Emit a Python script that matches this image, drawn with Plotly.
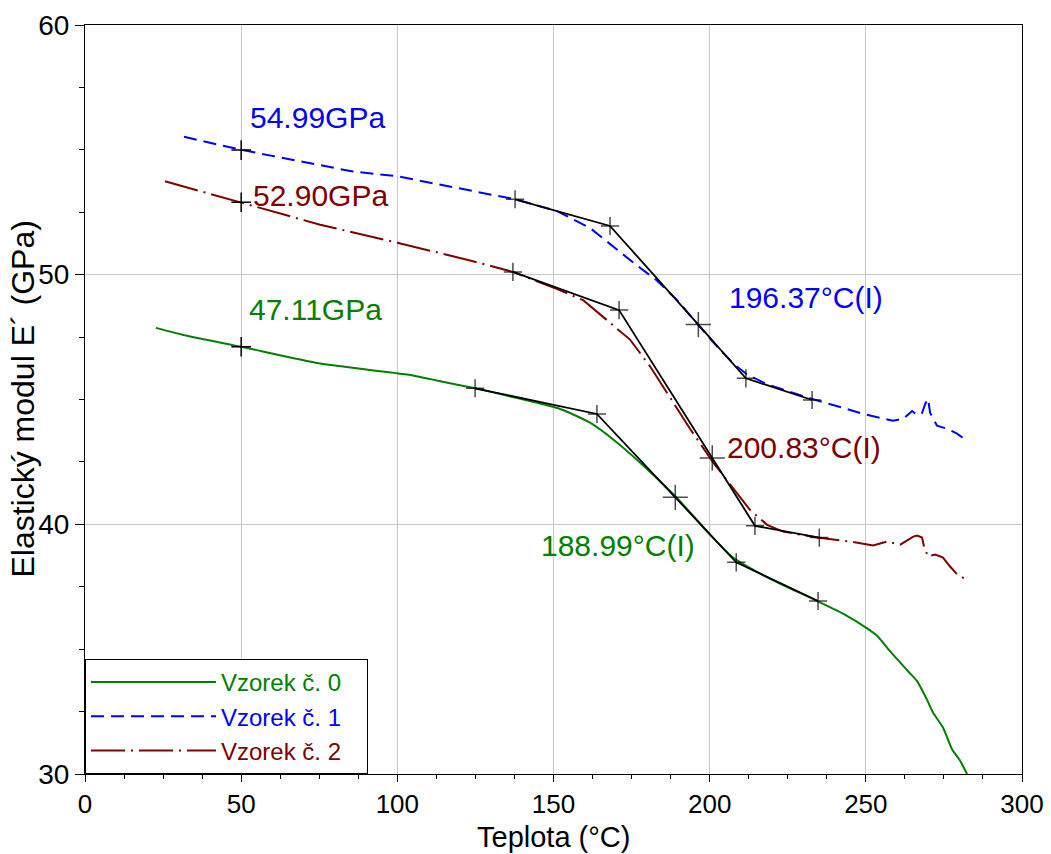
import plotly.graph_objects as go

# ---------------- data ----------------
# Vzorek č. 0 (green, solid)
t0 = [22.7, 32.7, 50.0, 75.3, 103.1, 116.9, 124.9, 138.3, 152.1, 161.7, 170.3, 178.7,
      189.6, 200.1, 207.5, 218.4, 234.4, 242.7, 250.4, 253.9, 257.8, 263.2, 266.4,
      269.6, 271.5, 274.7, 277.6, 280.1, 282.4]
e0 = [47.87, 47.55, 47.11, 46.44, 46.00, 45.65, 45.45, 45.06, 44.62, 44.07, 43.28, 42.36,
      41.05, 39.59, 38.67, 37.88, 36.93, 36.42, 35.83, 35.50, 34.91, 34.16, 33.72,
      32.97, 32.46, 31.86, 30.99, 30.55, 30.00]

# Vzorek č. 1 (blue, dashed)
t1 = [31.7, 50.0, 85.8, 100.0, 137.7, 151.1, 161.7, 170.3, 176.7, 183.1, 189.6, 196.3,
      202.4, 207.5, 212.0, 218.4, 232.8, 244.0, 249.1, 258.7, 262.0, 264.8, 266.4,
      268.0, 269.0, 269.9, 270.6, 272.8, 276.0, 279.2, 282.4]
e1 = [55.52, 55.00, 54.13, 53.94, 53.02, 52.55, 51.87, 51.00, 50.37, 49.77, 48.98, 47.99,
      47.12, 46.44, 46.00, 45.61, 45.02, 44.62, 44.42, 44.15, 44.23, 44.54, 44.38,
      44.46, 44.82, 45.02, 44.46, 43.95, 43.83, 43.63, 43.35]

# Vzorek č. 2 (dark red, dash-dot)
t2 = [25.6, 33.6, 50.0, 75.3, 100.0, 123.3, 137.0, 151.2, 159.5, 167.1, 174.5, 180.9,
      186.3, 193.7, 201.1, 207.5, 212.9, 218.4, 223.5, 234.4, 245.0, 252.3, 256.8,
      261.0, 263.6, 265.2, 266.4, 268.0, 268.7, 269.9, 272.2, 274.7, 276.9, 279.2, 282.4]
e2 = [53.74, 53.46, 52.90, 52.00, 51.28, 50.57, 50.11, 49.42, 48.98, 48.19, 47.40, 46.33,
      45.26, 43.83, 42.48, 41.45, 40.58, 39.98, 39.71, 39.47, 39.31, 39.15, 39.31,
      39.19, 39.39, 39.51, 39.55, 39.47, 39.07, 38.72, 38.79, 38.67, 38.32, 38.00, 37.77]

# Tangent constructions (onset / inflection / end points)
tan0_t = [124.9, 163.9, 188.99, 208.5, 234.7]
tan0_e = [45.45, 44.42, 41.08, 38.48, 36.93]
tan1_t = [137.7, 168.1, 196.37, 211.6, 232.8]
tan1_e = [53.02, 51.95, 48.00, 45.85, 44.98]
tan2_t = [137.0, 171.0, 200.83, 214.5, 235.1]
tan2_e = [50.11, 48.58, 42.66, 39.94, 39.47]

# Modulus read-outs at 50 °C
ref_t = [50.0, 50.0, 50.0]
ref_e = [47.11, 54.99, 52.90]

series_names = ["Vzorek č. 0", "Vzorek č. 1", "Vzorek č. 2"]
colors = ["#008000", "#0000FF", "#800000"]

# label texts & anchor positions (data coordinates)
labels = ["47.11GPa", "54.99GPa", "52.90GPa", "188.99°C(I)", "196.37°C(I)", "200.83°C(I)"]
label_t = [52.0, 52.3, 53.0, 145.5, 205.7, 205.0]
label_e = [48.60, 56.29, 53.16, 39.17, 49.08, 43.06]
label_col = [colors[0], colors[1], colors[2], colors[0], colors[1], colors[2]]

x_ticks = [0, 50, 100, 150, 200, 250, 300]
y_ticks = [30, 40, 50, 60]
x_title = "Teplota (°C)"
y_title = "Elastický modul E´ (GPa)"

FONT = "Liberation Sans, Arial, sans-serif"
PAD = "&nbsp;&nbsp;&nbsp;"

fig = go.Figure()

# main curves
fig.add_trace(go.Scatter(x=t0, y=e0, mode="lines", name=f"<span style='color:{colors[0]}'>{series_names[0]}</span>{PAD}",
                         line=dict(color=colors[0], width=2, shape="spline", smoothing=0.6)))
fig.add_trace(go.Scatter(x=t1, y=e1, mode="lines", name=f"<span style='color:{colors[1]}'>{series_names[1]}</span>{PAD}",
                         line=dict(color=colors[1], width=2, dash="13px,7px")))
fig.add_trace(go.Scatter(x=t2, y=e2, mode="lines", name=f"<span style='color:{colors[2]}'>{series_names[2]}</span>{PAD}",
                         line=dict(color=colors[2], width=2, dash="34px,6px,2px,6px")))

# tangent lines with cross markers
for tt, ee in [(tan0_t, tan0_e), (tan1_t, tan1_e), (tan2_t, tan2_e)]:
    fig.add_trace(go.Scatter(x=tt, y=ee, mode="lines+markers", showlegend=False,
                             line=dict(color="black", width=1.8),
                             marker=dict(symbol="cross-thin", size=[13, 13, 18, 13, 13],
                                         line=dict(color="black", width=1.5))))

# reference points at 50 °C
fig.add_trace(go.Scatter(x=ref_t, y=ref_e, mode="markers", showlegend=False,
                         marker=dict(symbol="cross-thin", size=14,
                                     line=dict(color="black", width=1.5))))

for txt, xx, yy, cc in zip(labels, label_t, label_e, label_col):
    fig.add_annotation(x=xx, y=yy, text=txt, showarrow=False, xanchor="left", yanchor="middle",
                       font=dict(family=FONT, size=30, color=cc))

# axis titles
fig.add_annotation(x=0.5, y=-0.1068, xref="paper", yref="paper", text=x_title, showarrow=False,
                   xanchor="center", yanchor="bottom", borderpad=0,
                   font=dict(family=FONT, size=29, color="black"))
fig.add_annotation(x=-0.0672, y=0.5, xref="paper", yref="paper", text=y_title, showarrow=False,
                   textangle=-90, xanchor="center", yanchor="middle",
                   font=dict(family=FONT, size=32, color="black"))

axis_common = dict(showline=True, linecolor="black", linewidth=1, mirror=True,
                   showgrid=True, gridcolor="#c8c8c8", gridwidth=1, zeroline=False,
                   ticks="outside", tickcolor="black", tickwidth=1,
                   automargin=False)

fig.update_xaxes(range=[0, 300], tickvals=x_ticks, ticklen=7,
                 tickfont=dict(family=FONT, size=26, color="black"),
                 minor=dict(dtick=12.5, ticks="outside", ticklen=4, tickcolor="black", showgrid=False),
                 **axis_common)
fig.update_yaxes(range=[30, 60], tickvals=y_ticks, ticklen=9,
                 tickfont=dict(family=FONT, size=28, color="black"),
                 minor=dict(dtick=2.5, ticks="outside", ticklen=5, tickcolor="black", showgrid=False),
                 **axis_common)

fig.update_layout(
    width=1051, height=854,
    margin=dict(l=85, r=29, t=25, b=80),
    paper_bgcolor="white", plot_bgcolor="white",
    font=dict(family=FONT, color="black"),
    legend=dict(x=0, y=0, xanchor="left", yanchor="bottom",
                bgcolor="white", bordercolor="black", borderwidth=1,
                font=dict(family=FONT, size=24), itemwidth=125,
                tracegroupgap=0),
)

fig.write_html("out.html")
